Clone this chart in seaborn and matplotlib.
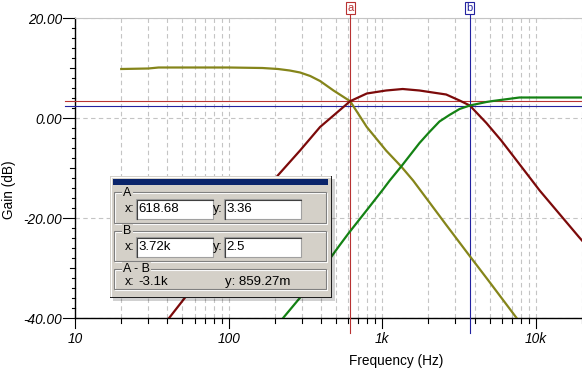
import pandas as pd
import matplotlib
matplotlib.use("Agg")
import matplotlib.pyplot as plt
import matplotlib.ticker as mticker
from matplotlib.patches import Rectangle
import seaborn as sns

# ---------------------------
# Dados (Hz, dB)
# ---------------------------
lp_freq = [20, 30, 35, 50, 100, 166, 210, 250, 292, 340, 394, 482, 618.68, 794, 1060,
           1330, 1590, 2000, 2600, 3610, 5000, 7460, 10000]
lp_gain = [9.8, 9.9, 10.1, 10.1, 10.1, 10.0, 9.8, 9.5, 9.1, 8.4, 7.4, 5.5, 3.36, -1.8, -6.5,
           -9.7, -12.5, -16.6, -21.3, -27.1, -32.8, -39.9, -45.0]

bp_freq = [20, 30, 41, 51.5, 70, 100, 150, 209, 292, 394, 482, 618.68, 794, 1060, 1360,
           1750, 2030, 2610, 3190, 3720, 4770, 5960, 8000, 10600, 19100, 20000]
bp_gain = [-52.5, -45.4, -40.0, -36.1, -30.8, -24.6, -17.6, -11.5, -6.5, -1.8, 0.5, 3.36, 4.9, 5.5, 5.8,
           5.5, 5.2, 4.7, 3.5, 2.5, -1.0, -4.5, -9.6, -14.5, -23.8, -24.5]

hp_freq = [20, 50, 100, 150, 225, 289, 400, 527, 606, 800, 1000, 1120, 1330, 1750, 2030,
           2360, 2740, 3190, 3720, 4770, 5250, 7830, 10000, 20000]
hp_gain = [-82, -66, -54, -47, -40.1, -36.1, -30.6, -25.5, -23.0, -18.3, -14.5, -12.5, -9.7, -5.0, -2.8,
           -0.7, 0.6, 1.8, 2.5, 3.2, 3.4, 4.1, 4.1, 4.1]

cursor_names = ['a', 'b']
cursor_x = [618.68, 3720.0]
cursor_y = [3.36, 2.5]
cursor_xlabels = ['618.68', '3.72k']
cursor_ylabels = ['3.36', '2.5']
diff_labels = ['-3.1k', '859.27m']

x_ticks = [10, 100, 1000, 10000]
x_ticklabels = ['10', '100', '1k', '10k']
y_ticks = [-40, -20, 0, 20]

cores = {'LP': '#85851a', 'BP': '#7c0a0a', 'HP': '#148214'}
cores_cursor = ['#b83232', '#2323a0']

df = pd.concat([
    pd.DataFrame({'freq': lp_freq, 'gain': lp_gain, 'curva': 'LP'}),
    pd.DataFrame({'freq': bp_freq, 'gain': bp_gain, 'curva': 'BP'}),
    pd.DataFrame({'freq': hp_freq, 'gain': hp_gain, 'curva': 'HP'}),
], ignore_index=True)

# ---------------------------
# Figura
# ---------------------------
plt.rcParams['font.family'] = ['Liberation Sans', 'DejaVu Sans']
plt.rcParams['axes.unicode_minus'] = False

W, H = 582, 375
fig = plt.figure(figsize=(W / 100, H / 100), dpi=100)
ax = fig.add_axes([75 / W, 1 - 318 / H, 1 - 75 / W, 300 / H])

ax.set_xscale('log')
sns.lineplot(data=df, x='freq', y='gain', hue='curva', palette=cores, estimator=None,
             legend=False, linewidth=1.6, ax=ax, zorder=4)
ax.set_xlim(10, 20000)
ax.set_ylim(-40, 20)
ax.set_xlabel('')
ax.set_ylabel('')

ax.xaxis.set_major_locator(mticker.FixedLocator(x_ticks))
ax.xaxis.set_major_formatter(mticker.FixedFormatter(x_ticklabels))
ax.xaxis.set_minor_locator(mticker.LogLocator(base=10, subs=range(2, 10), numticks=20))
ax.xaxis.set_minor_formatter(mticker.NullFormatter())
ax.yaxis.set_major_locator(mticker.FixedLocator(y_ticks))
ax.yaxis.set_major_formatter(mticker.FuncFormatter(lambda v, p: f'{v:.2f}'))
ax.yaxis.set_minor_locator(mticker.MultipleLocator(2))

ax.grid(which='both', axis='x', color='#c4c4c4', linestyle=(0, (4, 3)), linewidth=0.8)
ax.grid(which='major', axis='y', color='#c4c4c4', linestyle=(0, (4, 3)), linewidth=0.8)

# marcas dos eixos desenhadas como linhas
ax.tick_params(axis='both', which='both', length=0)
ax.tick_params(axis='y', which='major', pad=9.1, labelsize=9.8)
ax.tick_params(axis='x', which='major', pad=9.8, labelsize=9.8)
plt.setp(ax.get_xticklabels() + ax.get_yticklabels(), fontstyle='italic')

xt = ax.get_xaxis_transform()
yt = ax.get_yaxis_transform()
xmin, xmax = ax.get_xlim()
for v in ax.xaxis.get_majorticklocs():
    ax.plot([v, v], [0, -0.034], color='black', lw=0.8, transform=xt, clip_on=False)
for v in ax.xaxis.get_minorticklocs():
    if xmin <= v <= xmax:
        ax.plot([v, v], [0, -0.017], color='black', lw=0.8, transform=xt, clip_on=False)
for v in ax.yaxis.get_majorticklocs():
    ax.plot([0, -0.024], [v, v], color='black', lw=0.8, transform=yt, clip_on=False)
for v in ax.yaxis.get_minorticklocs():
    if -40 < v < 20 and v not in y_ticks:
        comp = 0.010 if v % 20 == 10 else 0.0065
        ax.plot([0, -comp], [v, v], color='black', lw=0.8, transform=yt, clip_on=False)

ax.spines['right'].set_visible(False)
ax.spines['top'].set_color('#c4c4c4')
ax.spines['top'].set_linewidth(0.8)
for s in ['left', 'bottom']:
    ax.spines[s].set_color('black')
    ax.spines[s].set_linewidth(1.0)

fig.text(396 / W, 1 - 361 / H, 'Frequency (Hz)', ha='center', va='center', fontsize=9.8)
fig.text(9 / W, 1 - 190 / H, 'Gain (dB)', ha='center', va='center', rotation=90, fontsize=9.8)

# ---------------------------
# Cursores a / b
# ---------------------------
for nome, cx, cy, c in zip(cursor_names, cursor_x, cursor_y, cores_cursor):
    ax.plot([cx, cx], [-0.05, 1.02], color=c, lw=0.8, transform=xt, clip_on=False, zorder=3)
    ax.plot([-0.02, 1], [cy, cy], color=c, lw=0.8, transform=yt, clip_on=False, zorder=3)
    ax.text(cx, 1.033, nome, transform=xt, ha='center', va='center',
            color=c, fontsize=8, clip_on=False, zorder=6,
            bbox=dict(boxstyle='square,pad=0.12', fc='white', ec=c, lw=0.8))

# ---------------------------
# Janela de leitura dos cursores
# ---------------------------
bx = fig.add_axes([106 / W, 1 - 304 / H, 232 / W, 130 / H], zorder=10)
bx.set_xlim(106, 338)
bx.set_ylim(304, 174)
bx.axis('off')

cinza = '#d4d0c8'
bx.add_patch(Rectangle((113, 179), 222, 122, fc='black', alpha=0.18, lw=0))
bx.add_patch(Rectangle((110, 176), 222, 122, fc='#202020', lw=0))
bx.add_patch(Rectangle((110, 176), 220.5, 120.5, fc=cinza, lw=0))
bx.plot([110.5, 110.5, 330], [296, 176.5, 176.5], color='white', lw=0.8)
bx.add_patch(Rectangle((113, 178.5), 215, 6.5, fc='#0a246a', lw=0))

grupos = [(192, 223, 'A'), (231, 261, 'B'), (269, 289, 'A - B')]
for topo, base, rotulo in grupos:
    bx.add_patch(Rectangle((115, topo + 1), 212, base - topo, fill=False, ec='white', lw=0.8))
    bx.add_patch(Rectangle((114, topo), 212, base - topo, fill=False, ec='#808080', lw=0.8))
    bx.text(123, topo + 0.5, rotulo, ha='left', va='center', fontsize=9,
            bbox=dict(boxstyle='square,pad=0.1', fc=cinza, ec='none'))

linhas = [(199, cursor_xlabels[0], cursor_ylabels[0]), (237, cursor_xlabels[1], cursor_ylabels[1])]
for topo, xs, ys in linhas:
    meio = topo + 10
    for x0, rot, val in [(136, 'x:', xs), (224, 'y:', ys)]:
        bx.add_patch(Rectangle((x0, topo), 77, 20, fc='white', ec='#a0a0a0', lw=0.8))
        bx.plot([x0 + 0.5, x0 + 0.5, x0 + 77], [topo + 20, topo + 0.5, topo + 0.5],
                color='#404040', lw=0.8)
        bx.text(x0 - 11, meio, rot, ha='left', va='center', fontsize=9)
        bx.text(x0 + 2.5, meio, val, ha='left', va='center', fontsize=9.5)

bx.text(125, 282, 'x:', ha='left', va='center', fontsize=9)
bx.text(138, 282, diff_labels[0], ha='left', va='center', fontsize=9.5)
bx.text(225, 282, 'y: ' + diff_labels[1], ha='left', va='center', fontsize=9.5)

fig.savefig('out.png', dpi=100)
